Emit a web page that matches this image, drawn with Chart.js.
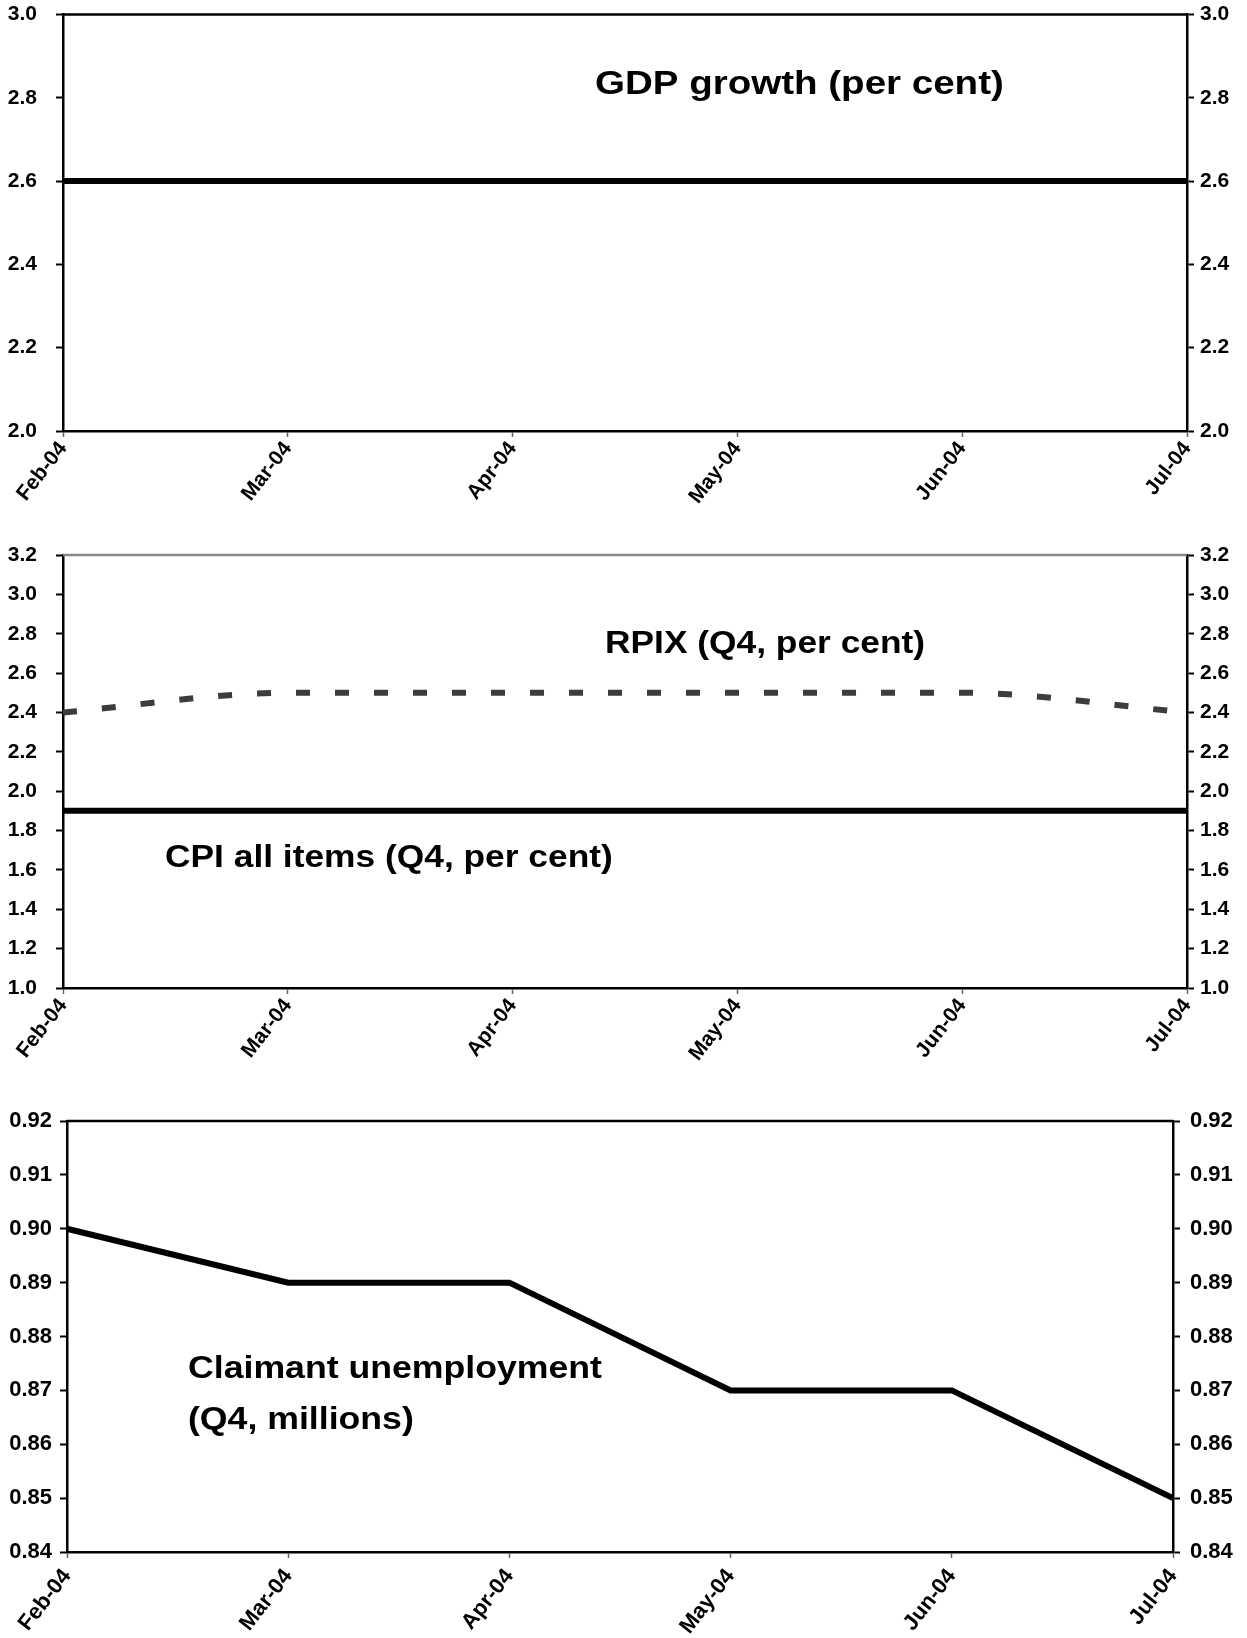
<!DOCTYPE html>
<html>
<head>
<meta charset="utf-8">
<script src="https://cdn.jsdelivr.net/npm/chart.js@4/dist/chart.umd.min.js"></script>
<style>
  html, body { margin: 0; padding: 0; background: #fff; overflow: hidden; }
  canvas { position: absolute; left: 0; }
</style>
</head>
<body>
<canvas id="gdpChart" width="1247" height="541" style="top:-30px"></canvas>
<canvas id="inflationChart" width="1247" height="548" style="top:520px"></canvas>
<canvas id="claimantChart" width="1247" height="558" style="top:1080px"></canvas>
<script>
// Forecast months
const months = ['Feb-04', 'Mar-04', 'Apr-04', 'May-04', 'Jun-04', 'Jul-04'];

// GDP growth, per cent
const gdpGrowth = [2.6, 2.6, 2.6, 2.6, 2.6, 2.6];
// RPIX, Q4, per cent
const rpix = [2.4, 2.5, 2.5, 2.5, 2.5, 2.4];
// CPI all items, Q4, per cent
const cpiAllItems = [1.9, 1.9, 1.9, 1.9, 1.9, 1.9];
// Claimant unemployment, Q4, millions
const claimantUnemployment = [0.90, 0.89, 0.89, 0.87, 0.87, 0.85];

// Value-axis tick labels
const gdpTicks = [2.0, 2.2, 2.4, 2.6, 2.8, 3.0];
const inflationTicks = [1.0, 1.2, 1.4, 1.6, 1.8, 2.0, 2.2, 2.4, 2.6, 2.8, 3.0, 3.2];
const claimantTicks = [0.84, 0.85, 0.86, 0.87, 0.88, 0.89, 0.90, 0.91, 0.92];

const FONT = '"Liberation Sans", Arial, Helvetica, sans-serif';

// Frame line across the top of the plot area
const topFrame = {
  id: 'topFrame',
  afterDraw(chart, args, opts) {
    const { ctx, chartArea } = chart;
    ctx.save();
    ctx.strokeStyle = opts.color || '#000';
    ctx.lineWidth = 2.5;
    ctx.beginPath();
    ctx.moveTo(chartArea.left, chartArea.top);
    ctx.lineTo(chartArea.right, chartArea.top);
    ctx.stroke();
    ctx.restore();
  }
};

// Series captions written inside the plot area
const captions = {
  id: 'captions',
  afterDraw(chart, args, opts) {
    const { ctx } = chart;
    (opts.items || []).forEach(item => {
      ctx.save();
      ctx.font = 'bold ' + (item.size || 31) + 'px ' + FONT;
      ctx.fillStyle = '#000';
      ctx.textBaseline = 'alphabetic';
      ctx.translate(item.x, item.y);
      ctx.scale(item.stretch || 1.14, 1);
      ctx.fillText(item.text, 0, 0);
      ctx.restore();
    });
  }
};

function valueAxis(position, ticks, decimals, width, pad, size) {
  return {
    type: 'linear',
    position: position,
    min: ticks[0],
    max: ticks[ticks.length - 1],
    afterBuildTicks: scale => { scale.ticks = ticks.map(v => ({ value: v })); },
    afterFit: scale => { scale.width = width; },
    grid: {
      display: true, drawOnChartArea: false, drawTicks: true,
      tickLength: 7, tickWidth: 2, tickColor: '#000'
    },
    border: { display: true, color: '#000', width: 2.5 },
    ticks: {
      color: '#000',
      padding: pad,
      font: { family: FONT, size: size, weight: 'bold' },
      callback: v => Number(v).toFixed(decimals)
    }
  };
}

function buildChart(id, opt) {
  const leftW = opt.left;
  const rightW = 1247 - opt.right;
  new Chart(document.getElementById(id), {
    type: 'line',
    data: { labels: months, datasets: opt.datasets },
    options: {
      responsive: false,
      animation: false,
      layout: { padding: { top: opt.top, left: 0, right: 0, bottom: 0 } },
      plugins: {
        legend: { display: false },
        tooltip: { enabled: false },
        topFrame: { color: opt.frameColor },
        captions: { items: opt.captions }
      },
      elements: { point: { radius: 0 } },
      scales: {
        x: {
          type: 'category',
          offset: false,
          afterFit: scale => { scale.height = opt.xHeight; },
          grid: {
            display: true, drawOnChartArea: false, drawTicks: true,
            tickLength: 6, tickWidth: 1.5, tickColor: '#666'
          },
          border: { display: true, color: '#000', width: 2.5 },
          ticks: {
            color: '#000',
            autoSkip: false,
            maxRotation: 52,
            minRotation: 52,
            padding: opt.xPad,
            font: { family: FONT, size: opt.fontSize, weight: 'bold' }
          }
        },
        y: valueAxis('left', opt.ticks, opt.decimals, leftW, opt.leftPad, opt.fontSize),
        y2: valueAxis('right', opt.ticks, opt.decimals, rightW, opt.rightPad, opt.fontSize)
      }
    },
    plugins: [topFrame, captions]
  });
}

buildChart('gdpChart', {
  top: 44.5, left: 63, right: 1187, xHeight: 80, xPad: 0, fontSize: 21,
  leftPad: 19, rightPad: 6,
  ticks: gdpTicks, decimals: 1, frameColor: '#000',
  datasets: [{
    label: 'GDP growth (per cent)', data: gdpGrowth,
    borderColor: '#000', borderWidth: 6, tension: 0, yAxisID: 'y'
  }],
  captions: [{ text: 'GDP growth (per cent)', x: 595, y: 124, size: 33.5, stretch: 1.15 }]
});

buildChart('inflationChart', {
  top: 35, left: 63, right: 1187, xHeight: 80, xPad: 0, fontSize: 21,
  leftPad: 19, rightPad: 6,
  ticks: inflationTicks, decimals: 1, frameColor: '#888',
  datasets: [{
    label: 'RPIX (Q4, per cent)', data: rpix,
    borderColor: '#3c3c3c', borderWidth: 6, borderDash: [14, 25],
    cubicInterpolationMode: 'monotone', yAxisID: 'y'
  }, {
    label: 'CPI all items (Q4, per cent)', data: cpiAllItems,
    borderColor: '#000', borderWidth: 6, tension: 0, yAxisID: 'y'
  }],
  captions: [
    { text: 'RPIX (Q4, per cent)', x: 605, y: 133 },
    { text: 'CPI all items (Q4, per cent)', x: 165, y: 347 }
  ]
});

buildChart('claimantChart', {
  top: 41, left: 67, right: 1173, xHeight: 86, xPad: 6, fontSize: 22,
  leftPad: 8, rightPad: 10,
  ticks: claimantTicks, decimals: 2, frameColor: '#000',
  datasets: [{
    label: 'Claimant unemployment (Q4, millions)', data: claimantUnemployment,
    borderColor: '#000', borderWidth: 6, tension: 0, yAxisID: 'y'
  }],
  captions: [
    { text: 'Claimant unemployment', x: 188, y: 298, stretch: 1.15 },
    { text: '(Q4, millions)', x: 188, y: 349, stretch: 1.15 }
  ]
});
</script>
</body>
</html>
